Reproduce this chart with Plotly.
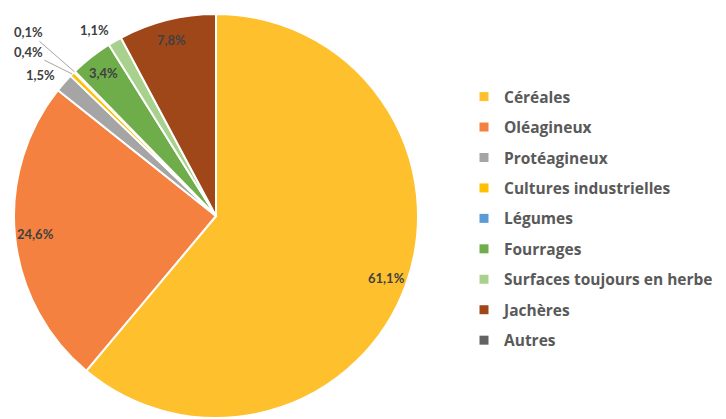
import math
import plotly.graph_objects as go

labels = ["Céréales", "Oléagineux", "Protéagineux", "Cultures industrielles", "Légumes",
          "Fourrages", "Surfaces toujours en herbe", "Jachères", "Autres"]
values = [61.1, 24.6, 1.5, 0.4, 0.1, 3.4, 1.1, 7.8, 0.0]
text_labels = ["61,1%", "24,6%", "1,5%", "0,4%", "0,1%", "3,4%", "1,1%", "7,8%", ""]
colors = ["#FFC02E", "#F58140", "#A5A5A5", "#FFC000", "#5B9BD5",
          "#6FAD4A", "#A8D18D", "#A0471A", "#636363"]
# label placement style: (radius factor, pixel shift, leader line?)
label_style = [(0.9, (0, 0), False), (0.9, (0, 0), False), (1.0, (-24, -8), False),
               (1.0, (-44, -22), True), (1.0, (-46, -40), True),
               (0.9, (0, 0), False), (1.0, (-20, -11), False), (0.9, (0, 0), False), None]

W, H = 726, 419
OFF = 8  # page body margin
CX, CY, R = 216 - OFF, 216 - OFF, 202

fig = go.Figure()
fig.add_trace(go.Pie(
    labels=labels, values=values, sort=False, direction="clockwise", rotation=0,
    marker=dict(colors=colors, line=dict(color="white", width=2)),
    textinfo="none", hoverinfo="label+percent", showlegend=False,
    domain=dict(x=[(CX - R) / W, (CX + R) / W], y=[1 - (CY + R) / H, 1 - (CY - R) / H]),
))

# legend entries
for lab, col in zip(labels, colors):
    fig.add_trace(go.Scatter(x=[None], y=[None], mode="markers", name=lab, legendgroup=lab,
                             marker=dict(symbol="square", size=9, color=col),
                             showlegend=True))

total = sum(values)
cum = 0.0
annotations = []
for v, t, st in zip(values, text_labels, label_style):
    mid = (cum + v / 2) / total * 2 * math.pi
    cum += v
    if st is None or not t:
        continue
    f, (sx, sy), leader = st
    px = CX + f * R * math.sin(mid)
    py = CY - f * R * math.cos(mid)
    a = dict(xref="paper", yref="paper", text=t, xanchor="center", yanchor="middle",
             font=dict(family="Lato", size=13, color="#404040", weight="bold"))
    if leader:
        a.update(x=px / W, y=1 - py / H, showarrow=True, ax=sx, ay=sy, arrowhead=0,
                 arrowwidth=1, arrowcolor="#A6A6A6", standoff=0)
    else:
        a.update(x=(px + sx) / W, y=1 - (py + sy) / H, showarrow=False)
    annotations.append(a)

fig.update_layout(
    width=W, height=H, margin=dict(l=0, r=0, t=0, b=0),
    paper_bgcolor="white", plot_bgcolor="white",
    xaxis=dict(visible=False), yaxis=dict(visible=False),
    showlegend=True,
    legend=dict(x=(464 - OFF) / W, y=1 - (80 - OFF) / H, xanchor="left", yanchor="top",
                tracegroupgap=7.3,
                font=dict(family="Open Sans", size=15.5, color="#595959", weight="bold"),
                bgcolor="rgba(0,0,0,0)"),
    annotations=annotations,
)

fig.write_html("out.html")
